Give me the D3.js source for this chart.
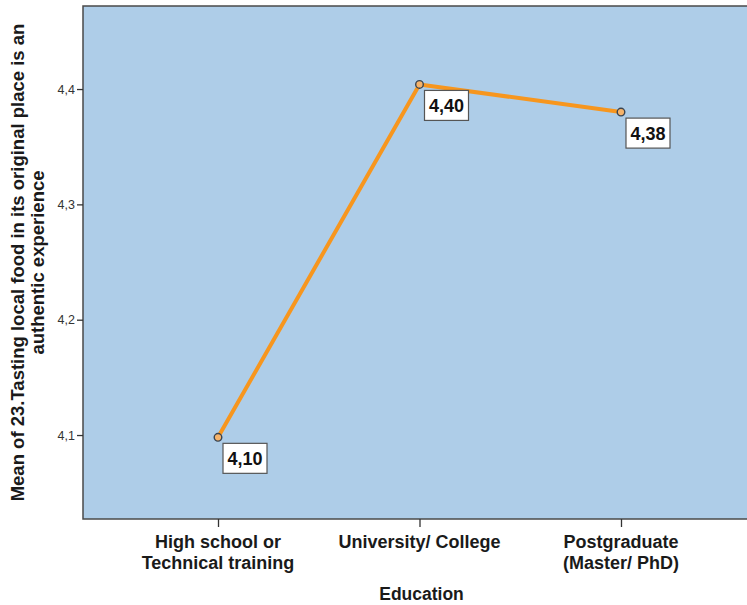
<!DOCTYPE html>
<html>
<head>
<meta charset="utf-8">
<script src="https://cdn.jsdelivr.net/npm/d3@7"></script>
<style>
  html, body { margin: 0; padding: 0; background: #fff; }
  svg { display: block; }
</style>
</head>
<body>
<svg id="chart" width="747" height="605"></svg>
<script>
// Education levels and mean scores
const categories = [
  ["High school or", "Technical training"],
  ["University/ College"],
  ["Postgraduate", "(Master/ PhD)"]
];
const categoryKeys = ["High school or Technical training", "University/ College", "Postgraduate (Master/ PhD)"];
const meanValues = [4.098, 4.404, 4.380];
const yTicks = [4.1, 4.2, 4.3, 4.4];

const svg = d3.select("#chart");
const plot = { left: 83, top: 6, right: 756, bottom: 519 };
const FONT = "Liberation Sans, Arial, sans-serif";

const x = d3.scalePoint()
  .domain(categoryKeys)
  .range([plot.left, plot.right])
  .padding(0.67);

const y = d3.scaleLinear()
  .domain([4.0272, 4.472])
  .range([plot.bottom, plot.top]);

const fmt = v => d3.format(".2f")(v).replace(".", ",");
const fmtTick = v => d3.format(".1f")(v).replace(".", ",");

// plot background
svg.append("rect")
  .attr("x", plot.left).attr("y", plot.top)
  .attr("width", plot.right - plot.left).attr("height", plot.bottom - plot.top)
  .attr("fill", "#aecde8")
  .attr("stroke", "#4a4a4a").attr("stroke-width", 1.5);

// y axis
const yAxis = svg.append("g")
  .attr("transform", `translate(${plot.left},0)`)
  .call(d3.axisLeft(y).tickValues(yTicks).tickFormat(fmtTick).tickSize(6).tickPadding(2));
yAxis.select(".domain").remove();
yAxis.selectAll(".tick line").attr("stroke", "#333").attr("stroke-width", 1.3);
yAxis.selectAll(".tick text")
  .attr("font-family", FONT)
  .attr("font-size", 12.5).attr("fill", "#333");

// x axis
const xAxis = svg.append("g")
  .attr("transform", `translate(0,${plot.bottom})`)
  .call(d3.axisBottom(x).tickSize(8).tickFormat(""));
xAxis.select(".domain").remove();
xAxis.selectAll(".tick line").attr("stroke", "#333").attr("stroke-width", 1.3);

// category labels (multi-line)
svg.append("g").selectAll("text")
  .data(categoryKeys)
  .join("text")
  .attr("font-family", FONT)
  .attr("font-size", 18)
  .attr("font-weight", "bold")
  .attr("fill", "#1a1a1a")
  .attr("text-anchor", "middle")
  .each(function(d, i) {
    d3.select(this).selectAll("tspan")
      .data(categories[i])
      .join("tspan")
      .attr("x", x(d))
      .attr("y", (t, j) => 548 + j * 21)
      .text(t => t);
  });

// axis titles
svg.append("text")
  .attr("x", (plot.left + plot.right) / 2 + 2)
  .attr("y", 600)
  .attr("text-anchor", "middle")
  .attr("font-family", FONT)
  .attr("font-size", 17.5).attr("font-weight", "bold").attr("fill", "#1a1a1a")
  .text("Education");

const yTitle = svg.append("text")
  .attr("transform", `translate(0,${(plot.top + plot.bottom) / 2}) rotate(-90)`)
  .attr("text-anchor", "middle")
  .attr("font-family", FONT)
  .attr("font-size", 18.5).attr("font-weight", "bold").attr("fill", "#1a1a1a");
yTitle.append("tspan").attr("x", 0).attr("y", 24)
  .text("Mean of 23.Tasting local food in its original place is an");
yTitle.append("tspan").attr("x", 0).attr("y", 44)
  .text("authentic experience");

// line
const line = d3.line()
  .x((d, i) => x(categoryKeys[i]))
  .y(d => y(d));

svg.append("path")
  .datum(meanValues)
  .attr("d", line)
  .attr("fill", "none")
  .attr("stroke", "#f7961e")
  .attr("stroke-width", 4)
  .attr("stroke-linejoin", "round");

// markers
svg.append("g").selectAll("circle")
  .data(meanValues)
  .join("circle")
  .attr("cx", (d, i) => x(categoryKeys[i]))
  .attr("cy", d => y(d))
  .attr("r", 3.8)
  .attr("fill", "#f6b36a")
  .attr("stroke", "#3a4450")
  .attr("stroke-width", 1.4);

// value labels
const labels = svg.append("g").selectAll("g")
  .data(meanValues)
  .join("g")
  .attr("transform", (d, i) => `translate(${x(categoryKeys[i]) + 5},${y(d) + 6})`);

labels.append("rect")
  .attr("width", 44).attr("height", 30)
  .attr("fill", "#fff")
  .attr("stroke", "#555").attr("stroke-width", 1.2);

labels.append("text")
  .attr("x", 22).attr("y", 22)
  .attr("text-anchor", "middle")
  .attr("font-family", FONT)
  .attr("font-size", 18).attr("font-weight", "bold").attr("fill", "#111")
  .text(d => fmt(d));
</script>
</body>
</html>
